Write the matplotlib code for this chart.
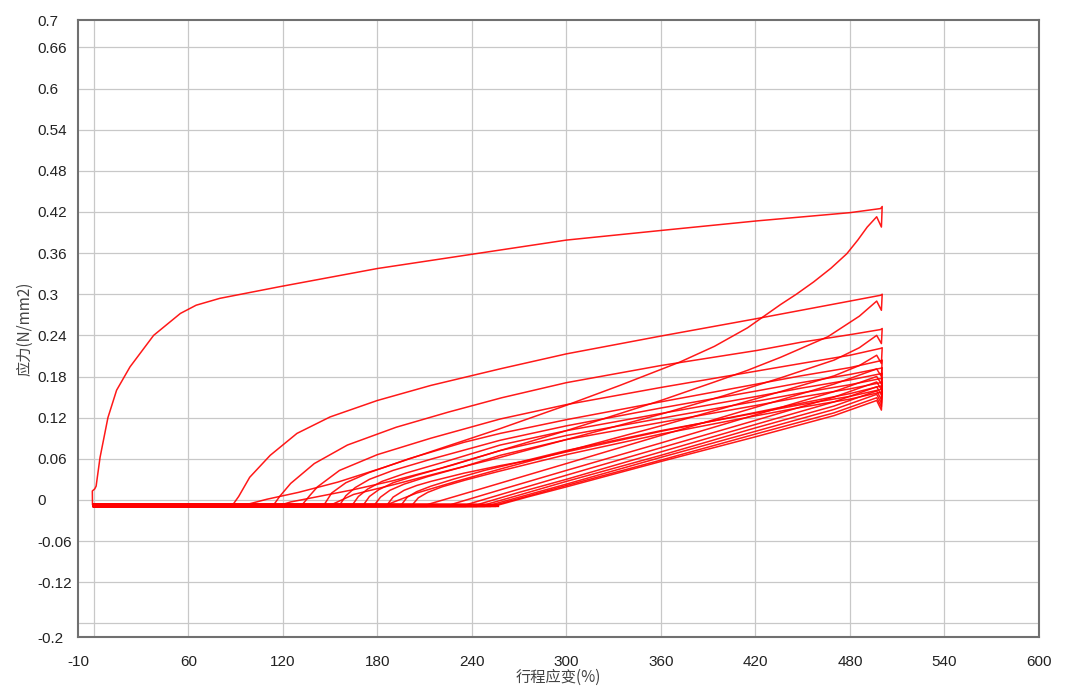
import matplotlib
matplotlib.use("Agg")
import matplotlib.pyplot as plt

# slack level when the sample is unloaded
base_y = -0.008

# cycle 1 (virgin loading)
c1_x = [1.0, -0.8, -0.9, 0.6, 1.5, 4, 9, 14.5, 23, 38, 55, 65, 80, 118, 180, 245, 300, 360, 421, 480, 499.5,
        500.5, 500, 497,
        491, 485, 478, 468, 457, 446, 436, 415, 394, 372, 334, 300, 258, 220, 185, 155, 130, 110, 95]
c1_y = [-0.008, -0.007, 0.013, 0.016, 0.02, 0.062, 0.12, 0.16, 0.194, 0.240, 0.272, 0.284, 0.294, 0.311, 0.3375,
        0.360, 0.379, 0.393, 0.407, 0.419, 0.425,
        0.428, 0.398, 0.413,
        0.398, 0.379, 0.359, 0.338, 0.318, 0.300, 0.285, 0.251, 0.224, 0.201, 0.167, 0.138, 0.104, 0.075, 0.048,
        0.026, 0.011, 0.001, -0.008]

c2_x = [88, 92, 99, 112, 129, 150, 180, 214, 258.6, 300, 360, 421, 449, 480, 499.5,
        500.5, 500, 497,
        486, 466, 436, 415, 394, 360, 300, 258, 220, 190, 165, 145, 125, 118]
c2_y = [-0.008, 0.005, 0.033, 0.065, 0.097, 0.121, 0.145, 0.167, 0.1915, 0.213, 0.239, 0.2645, 0.2766, 0.290, 0.2985,
        0.300, 0.2766, 0.290,
        0.268, 0.238, 0.208, 0.189, 0.172, 0.145, 0.101, 0.072, 0.046, 0.028, 0.015, 0.006, -0.003, -0.008]

c3_x = [114, 118, 125, 140, 161, 192, 225, 259, 300, 360, 421, 449, 480, 499.5,
        500.5, 500, 497,
        486, 470, 436, 400, 360, 300, 258, 220, 190, 165, 150]
c3_y = [-0.008, 0.005, 0.024, 0.053, 0.080, 0.106, 0.128, 0.149, 0.171, 0.196, 0.218, 0.230, 0.241, 0.2485,
        0.250, 0.228, 0.240,
        0.222, 0.204, 0.178, 0.152, 0.125, 0.088, 0.062, 0.040, 0.022, 0.008, -0.008]

c4_x = [132, 137, 142, 156, 180, 214, 258, 300, 360, 421, 449, 480, 499.5,
        500.5, 500, 497,
        486, 470, 436, 400, 360, 300, 258, 230, 205, 185]
c4_y = [-0.008, 0.006, 0.019, 0.043, 0.066, 0.090, 0.118, 0.139, 0.164, 0.188, 0.199, 0.211, 0.221,
        0.222, 0.199, 0.211,
        0.196, 0.181, 0.158, 0.134, 0.108, 0.071, 0.045, 0.027, 0.010, -0.008]

c5_x = [146, 151, 160, 175, 200, 235, 258, 277, 300, 360, 421, 449, 480, 499.5,
        500.5, 500, 497,
        470, 420, 360, 300, 250, 210]
c5_y = [-0.008, 0.010, 0.025, 0.040, 0.060, 0.084, 0.097, 0.106, 0.117, 0.143, 0.169, 0.181, 0.193, 0.203,
        0.204, 0.180, 0.191,
        0.169, 0.135, 0.094, 0.053, 0.019, -0.008]

c6_x = [156, 160, 166, 175, 190, 215, 258, 300, 360, 421, 449, 480, 499.5,
        500.5, 500, 497,
        470, 420, 360, 300, 260, 225]
c6_y = [-0.008, 0.006, 0.018, 0.030, 0.043, 0.060, 0.087, 0.108, 0.134, 0.159, 0.171, 0.183, 0.192,
        0.193, 0.169, 0.180,
        0.158, 0.124, 0.083, 0.043, 0.016, -0.008]

c7_x = [164, 168, 174, 183, 198, 222, 258, 300, 360, 421, 449, 480, 499.5,
        500.5, 500, 497,
        470, 420, 360, 300, 260, 235]
c7_y = [-0.008, 0.005, 0.016, 0.027, 0.039, 0.055, 0.080, 0.101, 0.126, 0.151, 0.163, 0.175, 0.184,
        0.185, 0.161, 0.172,
        0.150, 0.116, 0.076, 0.036, 0.009, -0.008]

c8_x = [171, 175, 181, 190, 205, 228, 258, 300, 360, 421, 449, 480, 499.5,
        500.5, 500, 497,
        470, 420, 360, 300, 270, 242]
c8_y = [-0.008, 0.005, 0.015, 0.025, 0.036, 0.051, 0.072, 0.094, 0.119, 0.144, 0.156, 0.168, 0.177,
        0.178, 0.153, 0.165,
        0.143, 0.110, 0.070, 0.030, 0.011, -0.008]

c9_x = [178, 182, 188, 197, 212, 234, 258, 300, 360, 421, 449, 480, 499.5,
        500.5, 500, 497,
        470, 420, 360, 300, 270, 247]
c9_y = [-0.008, 0.004, 0.014, 0.023, 0.034, 0.048, 0.065, 0.088, 0.113, 0.138, 0.150, 0.162, 0.171,
        0.172, 0.146, 0.159,
        0.137, 0.105, 0.065, 0.027, 0.007, -0.008]

c10_x = [186, 190, 197, 205, 214, 235, 258, 277, 300, 360, 421, 449, 480, 499.5,
         500.5, 500, 497,
         470, 420, 360, 300, 270, 251]
c10_y = [-0.008, 0.004, 0.014, 0.021, 0.027, 0.039, 0.050, 0.058, 0.070, 0.100, 0.128, 0.141, 0.155, 0.166,
         0.167, 0.141, 0.154,
         0.132, 0.100, 0.062, 0.023, 0.004, -0.008]

c11_x = [195, 199, 205, 214, 228, 248, 270, 300, 360, 421, 449, 480, 499.5,
         500.5, 500, 497,
         470, 420, 360, 300, 270, 254]
c11_y = [-0.008, 0.004, 0.012, 0.020, 0.030, 0.043, 0.055, 0.072, 0.101, 0.127, 0.139, 0.151, 0.161,
         0.162, 0.136, 0.149,
         0.127, 0.096, 0.058, 0.021, 0.002, -0.008]

c12_x = [202, 206, 212, 221, 236, 256, 277, 300, 360, 421, 449, 480, 499.5,
         500.5, 500, 497,
         470, 420, 360, 300, 275, 256]
c12_y = [-0.008, 0.003, 0.011, 0.019, 0.029, 0.041, 0.053, 0.066, 0.096, 0.123, 0.135, 0.147, 0.157,
         0.158, 0.131, 0.145,
         0.123, 0.092, 0.056, 0.019, 0.004, -0.008]

cycles = [(c1_x, c1_y), (c2_x, c2_y), (c3_x, c3_y), (c4_x, c4_y), (c5_x, c5_y), (c6_x, c6_y),
          (c7_x, c7_y), (c8_x, c8_y), (c9_x, c9_y), (c10_x, c10_y), (c11_x, c11_y), (c12_x, c12_y)]

x_tick_labels = [-10, 60, 120, 180, 240, 300, 360, 420, 480, 540, 600]
x_grid = [0, 60, 120, 180, 240, 300, 360, 420, 480, 540]
y_tick_labels = [-0.2, -0.12, -0.06, 0, 0.06, 0.12, 0.18, 0.24, 0.3, 0.36, 0.42, 0.48, 0.54, 0.6, 0.66, 0.7]
y_grid = [-0.18, -0.12, -0.06, 0, 0.06, 0.12, 0.18, 0.24, 0.3, 0.36, 0.42, 0.48, 0.54, 0.6, 0.66]

plt.rcParams['font.family'] = ['Liberation Sans', 'DejaVu Sans']

fig = plt.figure(figsize=(10.67, 6.93), dpi=100)
ax = fig.add_axes([0.0731, 0.0808, 0.9006, 0.8903])

red = "#ff0000"
for cx, cy in cycles:
    ax.plot(cx, cy, color=red, linewidth=1.1, alpha=0.9)
    # return to zero strain along the slack level
    ax.plot([cx[-1], 0], [base_y, base_y], color=red, linewidth=2.4)
    ax.plot([0, cx[0]], [base_y, base_y], color=red, linewidth=2.4)

ax.set_xlim(-10, 600)
ax.set_ylim(-0.2, 0.7)

# grid lines sit on the 60 / 0.06 steps, labels at the axis ends
ax.xaxis.remove_overlapping_locs = False
ax.yaxis.remove_overlapping_locs = False
ax.set_xticks(x_tick_labels)
ax.set_xticklabels([str(v) for v in x_tick_labels])
ax.set_yticks(y_tick_labels)
ax.set_yticklabels([f"{v:g}" for v in y_tick_labels])
ax.set_xticks(x_grid, minor=True)
ax.set_yticks(y_grid, minor=True)
ax.grid(False, which='major')
ax.grid(True, which='minor', color='#c8c8c8', linewidth=0.9)
ax.set_axisbelow(True)

ax.tick_params(axis='both', which='both', length=0, labelsize=11, labelcolor='#222222')
ax.tick_params(axis='x', pad=13)
ax.tick_params(axis='y', pad=29)
for lbl in ax.get_yticklabels():
    lbl.set_horizontalalignment('left')

for sp in ax.spines.values():
    sp.set_color('#707070')
    sp.set_linewidth(1.5)

cjk = ['Noto Sans CJK SC', 'DejaVu Sans']
ax.set_xlabel("行程应变(%)", family=cjk, fontsize=11, color='#444444')
ax.set_ylabel("应力(N/mm2)", family=cjk, fontsize=11, color='#444444')
ax.xaxis.set_label_coords(0.5, -0.052)
ax.xaxis.label.set_va('top')
ax.yaxis.set_label_coords(-0.055, 0.5)
ax.yaxis.label.set_va('center')

fig.savefig("out.png", dpi=100)
